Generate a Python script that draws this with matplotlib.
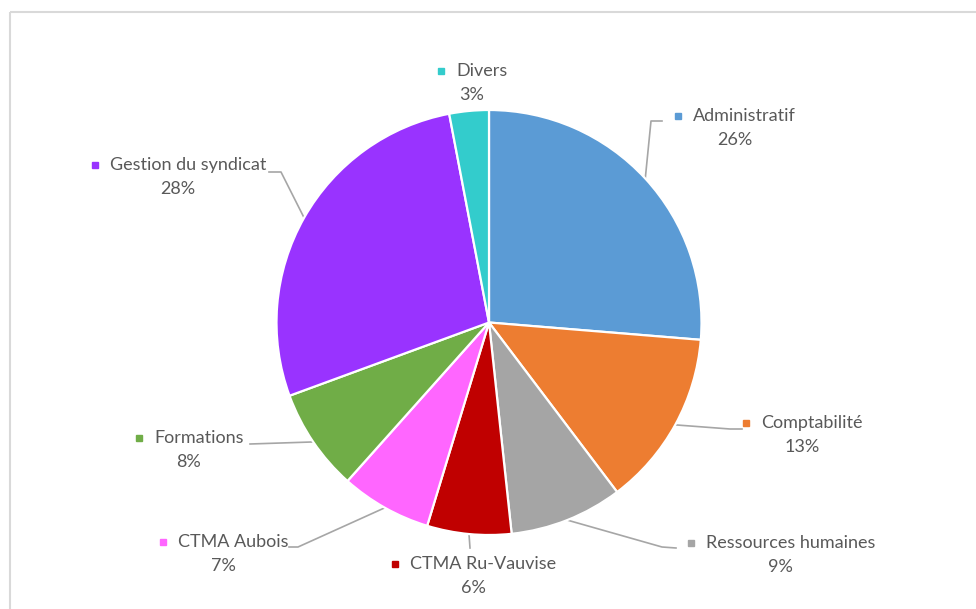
import numpy as np
import matplotlib
matplotlib.use("Agg")
import matplotlib.pyplot as plt

plt.rcParams['font.family'] = ['Lato', 'DejaVu Sans']

# data, clockwise from the top (shares in %)
categories = ['Administratif', 'Comptabilité', 'Ressources humaines', 'CTMA Ru-Vauvise',
              'CTMA Aubois', 'Formations', 'Gestion du syndicat', 'Divers']
values = [26.3, 13.4, 8.6, 6.4, 6.9, 7.8, 27.6, 3.0]
colors = ['#5B9BD5', '#ED7D31', '#A5A5A5', '#C00000', '#FF66FF', '#70AD47', '#9933FF', '#33CCCC']

# label layout (pixel coords): marker x, name centre y, elbow points of leader
label_pos = {
    'Administratif':       (678, 116, [(651, 121), (662, 121)]),
    'Comptabilité':        (746, 423, [(730, 429), (742, 429)]),
    'Ressources humaines': (691, 543, [(662, 547), (676, 548)]),
    'CTMA Ru-Vauvise':     (395, 564, [(470, 548)]),
    'CTMA Aubois':         (163, 542, [(298, 547), (289, 547)]),
    'Formations':          (139, 438, [(250, 444)]),
    'Gestion du syndicat': (95, 165,  [(281, 172), (269, 172)]),
    'Divers':              (441, 71,  None),
}

W, H = 976, 609
fig = plt.figure(figsize=(W / 100, H / 100), dpi=100)
ax = fig.add_axes([0, 0, 1, 1])

cx, cy, R = 489, 322.5, 212.5
wedges, _ = ax.pie(values, colors=colors, startangle=-90, counterclock=True,
                   center=(cx, cy), radius=R,
                   wedgeprops=dict(edgecolor='white', linewidth=1.6))
ax.set_xlim(0, W)
ax.set_ylim(H, 0)
ax.set_aspect('equal')
ax.axis('off')

# chart frame (cropped: only top and left visible)
ax.plot([10, W], [12, 12], color='#d9d9d9', lw=1.5, solid_capstyle='butt')
ax.plot([10, 10], [12, H], color='#d9d9d9', lw=1.5, solid_capstyle='butt')

txt_col = '#595959'
fs = 13
r = fig.canvas.get_renderer()
for w, name, v, c in zip(wedges, categories, values, colors):
    mx, my, elbow = label_pos[name]
    t = ax.text(mx + 15, my, name, fontsize=fs, color=txt_col, ha='left', va='center')
    bb = t.get_window_extent(renderer=r)
    right = ax.transData.inverted().transform((bb.x1, bb.y0))[0]
    ax.plot(mx, my, marker='s', ms=5, color=c, mec=c)
    ax.text((mx - 5 + right) / 2, my + 24, f'{round(v)}%', fontsize=fs, color=txt_col,
            ha='center', va='center')
    if elbow:
        th = np.deg2rad((w.theta1 + w.theta2) / 2)
        sx, sy = cx + R * np.cos(th), cy + R * np.sin(th)
        xs = [sx] + [p[0] for p in elbow]
        ys = [sy] + [p[1] for p in elbow]
        ax.plot(xs, ys, color='#a6a6a6', lw=1.2, zorder=0.5)

fig.savefig('out.png', dpi=100)
